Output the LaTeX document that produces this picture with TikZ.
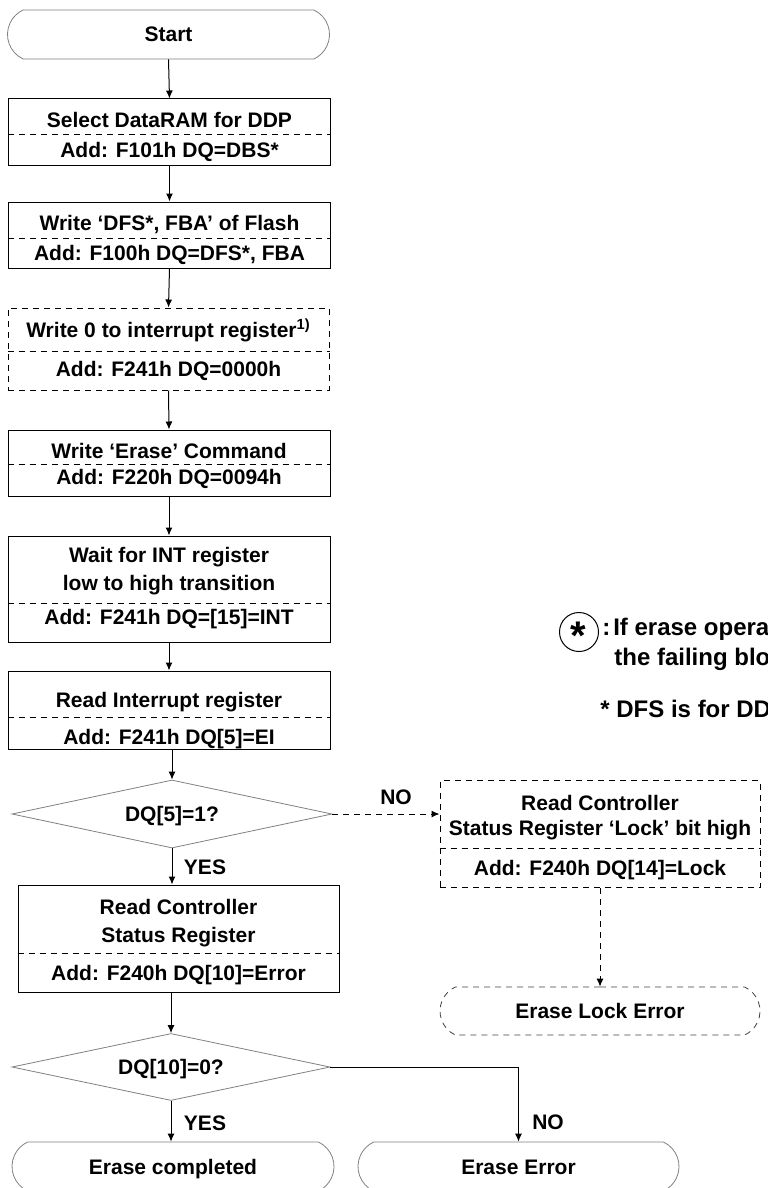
\documentclass[tikz,border=0pt]{standalone}
\usepackage{fontspec}
\setmainfont{Liberation Sans}
\usetikzlibrary{arrows.meta,shapes.geometric,shapes.misc}

\tikzset{
  flowtext/.style={font=\fontsize{10.5}{14}\selectfont\bfseries, inner sep=0pt, text height=7.5pt, text depth=0pt},
  notetext/.style={font=\fontsize{12}{14}\selectfont\bfseries, inner sep=0pt, text height=8.6pt, text depth=0pt, anchor=west},
  procbox/.style={draw, line width=0.5pt, minimum width=161pt, inner sep=0pt},
  optbox/.style={procbox, dash pattern=on 3pt off 2.5pt},
  divider/.style={line width=0.5pt, dash pattern=on 3pt off 2.5pt},
  termbox/.style={rounded rectangle, rounded rectangle arc length=130, draw=black!50, line width=0.4pt,
    minimum width=161pt, minimum height=24.5pt, inner sep=0pt, flowtext},
  decision/.style={diamond, draw=black!50, line width=0.4pt, aspect=4.7, inner sep=0pt, flowtext},
  arr/.style={-{Latex[length=4pt,width=3.5pt]}, line width=0.5pt},
  dasharr/.style={arr, dash pattern=on 3pt off 2.5pt}
}

\begin{document}
\begin{tikzpicture}[x=0.5pt, y=-0.5pt]
  \useasboundingbox (0,0) rectangle (767,1188);
  \clip (0,0) rectangle (767,1188);
  % Start
  \node[termbox] (start) at (168.5,34.5) {Start};
  % Main column of steps
  \node[procbox, minimum height=33pt] (sel) at (169.5,132) {};
  \node[flowtext] (selA) at (169.5,120) {Select DataRAM for DDP};
  \node[flowtext] (selB) at (169.5,150) {Add: F101h DQ=DBS*};
  \node[procbox, minimum height=33pt] (wfba) at (169.5,235) {};
  \node[flowtext] (wfbaA) at (169.5,223) {Write ‘DFS*, FBA’ of Flash};
  \node[flowtext] (wfbaB) at (169.5,253) {Add: F100h DQ=DFS*, FBA};
  \node[optbox, minimum width=160.5pt, minimum height=41pt] (wint) at (168.5,349) {};
  \node[flowtext] (wintA) at (168.5,330) {Write 0 to interrupt register\textsuperscript{1)}};
  \node[flowtext] (wintB) at (168.5,369) {Add: F241h DQ=0000h};
  \node[procbox, minimum height=33pt] (cmd) at (169,463) {};
  \node[flowtext] (cmdA) at (169,451) {Write ‘Erase’ Command};
  \node[flowtext] (cmdB) at (169,477) {Add: F220h DQ=0094h};
  \node[procbox, minimum height=53pt] (wait) at (169,589) {};
  \node[flowtext] (waitA) at (169,555) {Wait for INT register};
  \node[flowtext] (waitB) at (169,583) {low to high transition};
  \node[flowtext] (waitC) at (169,617) {Add: F241h DQ=[15]=INT};
  \node[procbox, minimum height=39pt] (rint) at (169,710) {};
  \node[flowtext] (rintA) at (169,700) {Read Interrupt register};
  \node[flowtext] (rintB) at (169,737) {Add: F241h DQ[5]=EI};
  % First decision
  \node[decision, minimum width=160pt, minimum height=34pt] (d1) at (172,814) {DQ[5]=1?};
  \node[procbox, minimum width=160.5pt, minimum height=53.5pt] (rcsr) at (178.5,938.5) {};
  \node[flowtext] (rcsrA) at (178.5,907) {Read Controller};
  \node[flowtext] (rcsrB) at (178.5,935) {Status Register};
  \node[flowtext] (rcsrC) at (178.5,973) {Add: F240h DQ[10]=Error};
  % Second decision and ends
  \node[decision, minimum width=159pt, minimum height=33.5pt] (d2) at (171,1067) {DQ[10]=0?};
  \node[termbox] (done) at (173,1166.5) {Erase completed};
  \node[termbox, minimum width=160.5pt] (err) at (518.5,1166.5) {Erase Error};
  % Lock branch
  \node[optbox, minimum width=160pt, minimum height=53.5pt] (lock) at (600,834) {};
  \node[flowtext] (lockA) at (600,803) {Read Controller};
  \node[flowtext] (lockB) at (600,828) {Status Register ‘Lock’ bit high};
  \node[flowtext] (lockC) at (600,868) {Add: F240h DQ[14]=Lock};
  \node[termbox, minimum width=160pt, minimum height=24pt, draw=black!75, dash pattern=on 3pt off 2.5pt] (lockerr) at (600,1011) {Erase Lock Error};
  % Dividers
  \foreach \b/\y in {sel/135, wfba/238, wint/351, cmd/464, wait/603, rint/717, rcsr/953, lock/848}
    \draw[divider] (\b.west |- 0,\y) -- (\b.east |- 0,\y);
  % Connectors
  \foreach \a/\b in {start/sel, sel/wfba, wfba/wint, wint/cmd, cmd/wait, wait/rint}
    \draw[arr] (\a.south) -- (\b.north);
  \draw[arr] (d1.north |- rint.south) -- (d1.north);
  \draw[arr] (d1.south) -- (d1.south |- rcsr.north);
  \draw[arr] (d2.north |- rcsr.south) -- (d2.north);
  \draw[arr] (d2.south) -- (d2.south |- done.north);
  \draw[arr] (d2.east) -| (err.north);
  \draw[dasharr] (d1.east) -- (d1.east -| lock.west);
  \draw[dasharr] (lock.south) -- (lockerr.north);
  % Branch labels
  \node[flowtext] (yes1) at (205,867) {YES};
  \node[flowtext] (no1) at (396,797) {NO};
  \node[flowtext] (yes2) at (205,1123) {YES};
  \node[flowtext] (no2) at (548,1122) {NO};
  % Notes
  \node[draw, circle, line width=0.5pt, minimum size=19.5pt, inner sep=0pt] (mark) at (579,632) {};
  \node[font=\fontsize{20}{20}\selectfont\bfseries, inner sep=0pt, anchor=base] (marksym) at (578,649) {*};
  \node[notetext] (noteA) at (602,627) {:\hspace{0.12em}If erase operation results in an error, map out};
  \node[notetext] (noteB) at (614,657) {the failing block and replace it with another block.};
  \node[notetext] (noteC) at (600,709) {* DFS is for DDP};
\end{tikzpicture}
\end{document}
